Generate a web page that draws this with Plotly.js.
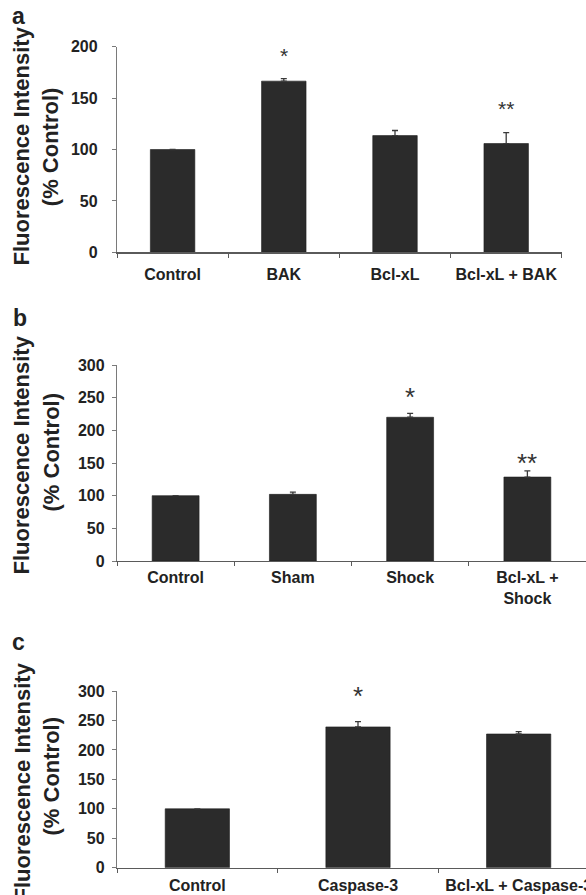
<!DOCTYPE html>
<html>
<head>
<meta charset="utf-8">
<script src="https://cdn.plot.ly/plotly-3.0.1.min.js"></script>
<style>
  html, body { margin: 0; padding: 0; background: #fff; overflow: hidden; width: 586px; height: 895px; }
  #chart { width: 610px; height: 895px; }
</style>
</head>
<body>
<div id="chart"></div>
<script>
// ---- Data ----
const catsA = ["Control", "BAK", "Bcl-xL", "Bcl-xL + BAK"];
const valsA = [100, 166.5, 113.5, 105.8];
const errsA = [0, 2.5, 5, 10.7];
const starsA = ["", "*", "", "**"];
const starYA = [0, 196.8, 0, 145.5];

const catsB = ["Control", "Sham", "Shock", "Bcl-xL +<br>Shock"];
const valsB = [100, 102, 220, 128.5];
const errsB = [0, 3.5, 6, 9.5];
const starsB = ["", "", "*", "**"];
const starYB = [0, 0, 261.7, 160];

const catsC = ["Control", "Caspase-3", "Bcl-xL + Caspase-3"];
const valsC = [100, 239, 227];
const errsC = [0, 9, 4];
const starsC = ["", "*", ""];
const starYC = [0, 303, 0];

const yTitle1 = "Fluorescence Intensity";
const yTitle2 = "(% Control)";
const panelLetters = ["a", "b", "c"];

// ---- Layout helpers (pixel geometry) ----
const W = 610, H = 895;
const px = v => v / W;
const py = v => 1 - v / H;

const FONT = "Liberation Sans, Arial, Helvetica, sans-serif";
const TXT = "#222222";
const BAR = "#2b2b2b";

function barTrace(cats, vals, errs, xa, ya) {
  return {
    type: "bar", x: cats, y: vals, xaxis: xa, yaxis: ya,
    marker: { color: BAR, line: { color: "#1c1c1c", width: 0.6 } },
    error_y: { type: "data", symmetric: false, array: errs, arrayminus: errs.map(() => 0),
               color: "#3a3a3a", thickness: 1.3, width: 3 },
    hoverinfo: "skip", showlegend: false
  };
}

const data = [
  barTrace(catsA, valsA, errsA, "x", "y"),
  barTrace(catsB, valsB, errsB, "x2", "y2"),
  barTrace(catsC, valsC, errsC, "x3", "y3")
];

function xAxis(domain, anchor, n, standoff) {
  return {
    domain: domain, anchor: anchor, type: "category", range: [-0.5, n - 0.5],
    showline: true, linecolor: "#5a5a5a", linewidth: 1.2,
    ticks: "outside", tickson: "boundaries", ticklen: 4, tickcolor: "#5a5a5a", tickwidth: 1,
    showgrid: false, zeroline: false, fixedrange: true,
    tickfont: { family: FONT, size: 16, color: TXT, weight: "bold" },
    ticklabelstandoff: standoff
  };
}
function yAxis(domain, anchor, max, standoff) {
  return {
    domain: domain, anchor: anchor, range: [0, max], dtick: 50,
    showline: true, linecolor: "#7a7a7a", linewidth: 1.2,
    ticks: "outside", ticklen: 4, tickcolor: "#7a7a7a", tickwidth: 1,
    showgrid: false, zeroline: false, fixedrange: true,
    tickfont: { family: FONT, size: 16, color: TXT, weight: "bold" },
    ticklabelstandoff: standoff
  };
}

const annotations = [];
function starAnn(cats, stars, ys, xa, ya, max, size) {
  cats.forEach((c, i) => {
    if (!stars[i]) return;
    annotations.push({
      x: c, y: ys[i] / max, xref: xa, yref: ya + " domain", text: stars[i], showarrow: false,
      xanchor: "center", yanchor: "middle", yshift: -size * 0.27,
      font: { family: FONT, size: size, color: "#333333" }
    });
  });
}
starAnn(catsA, starsA, starYA, "x", "y", 200, 21);
starAnn(catsB, starsB, starYB, "x2", "y2", 300, 26);
starAnn(catsC, starsC, starYC, "x3", "y3", 300, 26);

function titleAnn(text, xPx, yPx) {
  annotations.push({
    x: px(xPx), y: py(yPx), xref: "paper", yref: "paper", text: text, showarrow: false,
    textangle: -90, xanchor: "center", yanchor: "middle",
    font: { family: FONT, size: 22, color: TXT, weight: "bold" }
  });
}
titleAnn(yTitle1, 21.5, 146); titleAnn(yTitle2, 50.5, 146.7);
titleAnn(yTitle1, 21.5, 455); titleAnn(yTitle2, 51, 452.5);
titleAnn(yTitle1, 21.5, 782); titleAnn(yTitle2, 51, 776.5);

const letterPos = [[18, 16], [20, 318], [18, 642]];
panelLetters.forEach((t, i) => {
  annotations.push({
    x: px(letterPos[i][0]), y: py(letterPos[i][1]), xref: "paper", yref: "paper",
    text: t, showarrow: false, xanchor: "center", yanchor: "middle",
    font: { family: FONT, size: 23, color: TXT, weight: "bold" }
  });
});

const layout = {
  width: W, height: H,
  margin: { l: 0, r: 0, t: 0, b: 0 },
  paper_bgcolor: "#ffffff", plot_bgcolor: "#ffffff",
  bargap: 0.6, showlegend: false,
  xaxis:  xAxis([px(117), px(561.8)], "y", catsA.length, 7),
  yaxis:  yAxis([py(252.3), py(46.7)], "x", 200, 11),
  xaxis2: xAxis([px(117), px(586)], "y2", catsB.length, 2),
  yaxis2: yAxis([py(561), py(365)], "x2", 300, 4),
  xaxis3: xAxis([px(117), px(599)], "y3", catsC.length, 3),
  yaxis3: yAxis([py(867.7), py(691)], "x3", 300, 4),
  annotations: annotations
};

Plotly.newPlot("chart", data, layout, { staticPlot: true, displayModeBar: false });
</script>
</body>
</html>
